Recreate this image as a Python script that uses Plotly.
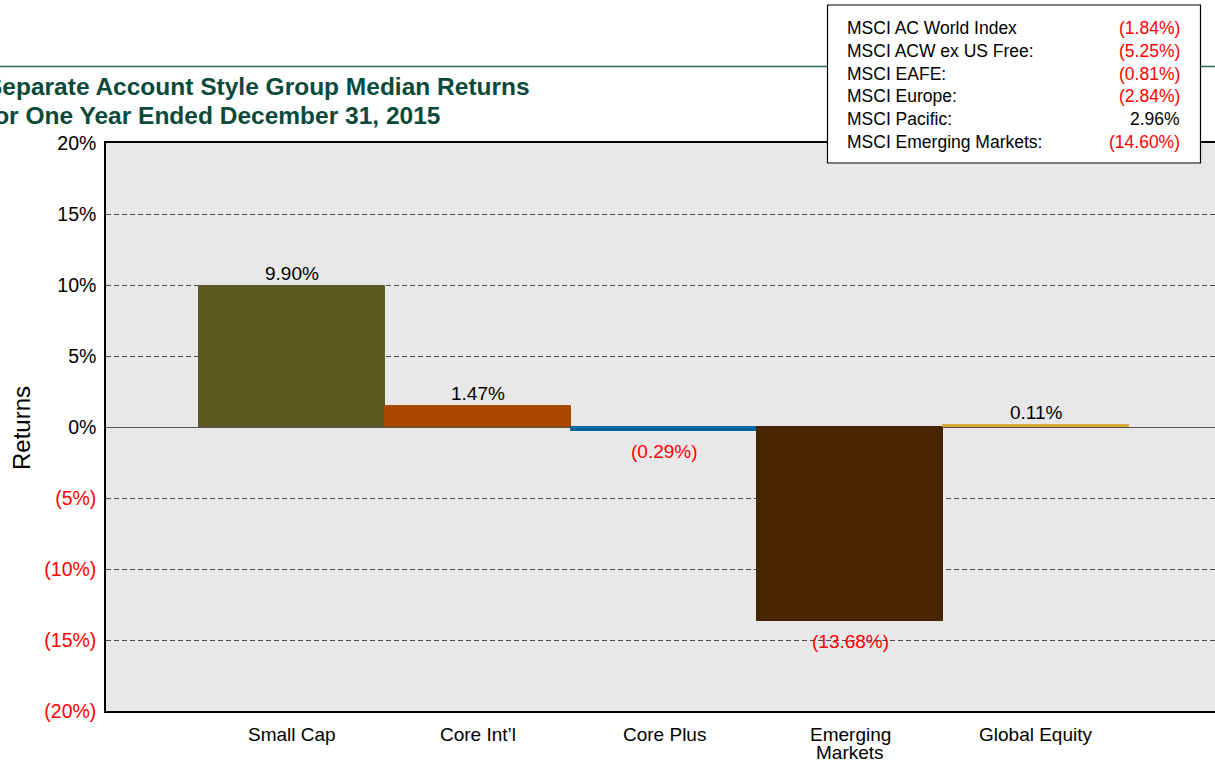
import plotly.graph_objects as go

# ---- data ----
categories = ["Small Cap", "Core Int\u2019l", "Core Plus", "Emerging Markets", "Global Equity"]
category_lines = [["Small Cap"], ["Core Int\u2019l"], ["Core Plus"], ["Emerging", "Markets"], ["Global Equity"]]
returns = [9.90, 1.47, -0.29, -13.68, 0.11]
bar_colors = ["#5c5a20", "#ab4800", "#00679e", "#472400", "#d9a93a"]

index_names = ["MSCI AC World Index", "MSCI ACW ex US Free:", "MSCI EAFE:",
               "MSCI Europe:", "MSCI Pacific:", "MSCI Emerging Markets:"]
index_values = [-1.84, -5.25, -0.81, -2.84, 2.96, -14.60]

y_ticks = [-20, -15, -10, -5, 0, 5, 10, 15, 20]

title_lines = ["Separate Account Style Group Median Returns",
               "for One Year Ended December 31, 2015"]

FONT = "Arial, Liberation Sans, sans-serif"
RED = "#ff0000"
W, H = 1215, 761
ML, MR, MT, MB = 106, 0, 143, 50


def fmt(v, dec=2):
    s = f"{abs(v):.{dec}f}%"
    return f"({s})" if v < 0 else s


def col(v):
    return RED if v < 0 else "#000000"


def px_x(px):
    return (px - ML) / (W - ML - MR)


def px_y(py):
    return 1 - (py - MT) / (H - MT - MB)


tick_text = [f'<span style="color:{col(t)}">{fmt(t, 0)}</span>' for t in y_ticks]
xpos = list(range(len(categories)))

fig = go.Figure()
fig.add_trace(go.Bar(
    x=xpos,
    y=returns,
    marker=dict(color=bar_colors, line=dict(color=bar_colors, width=1)),
    width=1.0,
    showlegend=False,
    hovertext=categories,
))

fig.update_layout(
    width=W, height=H,
    margin=dict(l=ML, r=MR, t=MT, b=MB),
    paper_bgcolor="white",
    plot_bgcolor="#e8e8e8",
    font=dict(family=FONT, size=19, color="black"),
    bargap=0,
    xaxis=dict(
        range=[-1.0, 4.962],
        showticklabels=False,
        showgrid=False,
        showline=True, linecolor="black", linewidth=1.5, mirror=True,
        zeroline=False,
    ),
    yaxis=dict(
        range=[-20, 20],
        tickvals=y_ticks,
        ticktext=tick_text,
        showgrid=True, gridcolor="#4a4a4a", gridwidth=1, griddash="5px,3px",
        zeroline=True, zerolinecolor="#555555", zerolinewidth=1,
        showline=True, linecolor="black", linewidth=1.5,
        ticks="outside", ticklen=4, tickcolor="rgba(0,0,0,0)",
        tickfont=dict(family=FONT, size=19.5, color="black"),
    ),
)

# y-axis title
fig.add_annotation(xref="paper", yref="paper", x=px_x(21), y=px_y(428),
                   xanchor="center", yanchor="middle", showarrow=False, textangle=-90,
                   text="Returns", font=dict(family=FONT, size=24, color="black"))

# category labels under the axis
for i, lines in enumerate(category_lines):
    for j, line in enumerate(lines):
        fig.add_annotation(xref="x", yref="paper", x=xpos[i], y=0,
                           xanchor="center", yanchor="middle", showarrow=False,
                           yshift=-(23 + 18.5 * j), text=line,
                           font=dict(family=FONT, size=19, color="black"))

# value labels on the bars
for i, v in enumerate(returns):
    fig.add_annotation(xref="x", yref="y", x=xpos[i], y=v,
                       xanchor="center", yanchor="bottom" if v >= 0 else "top",
                       yshift=0 if v >= 0 else -8, showarrow=False,
                       text=fmt(v), font=dict(family=FONT, size=19, color=col(v)))

# green rule across the top
fig.add_shape(type="line", xref="paper", yref="paper",
              x0=px_x(0), x1=px_x(W), y0=px_y(66.5), y1=px_y(66.5),
              line=dict(color="#2c6a55", width=1.5), layer="above")

# title
for i, line in enumerate(title_lines):
    fig.add_annotation(xref="paper", yref="paper", x=px_x(-16), y=px_y(87 + 29 * i),
                       xanchor="left", yanchor="middle", showarrow=False,
                       text=f"<b>{line}</b>",
                       font=dict(family=FONT, size=24.5, color="#0b4a3a"))

# index box
fig.add_shape(type="rect", xref="paper", yref="paper",
              x0=px_x(827.5), x1=px_x(1200.5), y0=px_y(5), y1=px_y(163),
              line=dict(color="black", width=1.2), fillcolor="white", layer="above")
for i, (n, v) in enumerate(zip(index_names, index_values)):
    yy = px_y(28 + 22.8 * i)
    fig.add_annotation(xref="paper", yref="paper", x=px_x(845), y=yy,
                       xanchor="left", yanchor="middle", showarrow=False,
                       text=n, font=dict(family=FONT, size=17.5, color="black"))
    fig.add_annotation(xref="paper", yref="paper", x=px_x(1182), y=yy,
                       xanchor="right", yanchor="middle", showarrow=False,
                       text=fmt(v), font=dict(family=FONT, size=17.5, color=col(v)))

fig.write_html("out.html", config={"displayModeBar": False},
               post_script="document.body.style.margin='0px';")
